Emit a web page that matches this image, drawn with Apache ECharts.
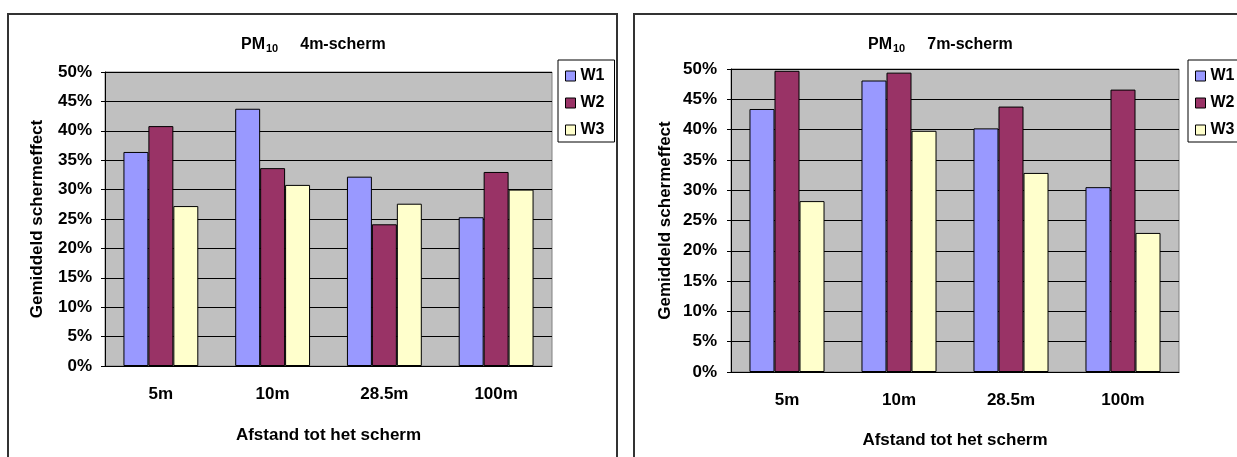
<!DOCTYPE html>
<html>
<head>
<meta charset="utf-8">
<script src="https://cdn.jsdelivr.net/npm/echarts@6/dist/echarts.min.js"></script>
<style>
  html, body { margin: 0; padding: 0; background: #fff; }
  #chart { width: 1237px; height: 457px; }
</style>
</head>
<body>
<div id="chart"></div>
<script>
// Distance classes along the x axis
const categories = ['5m', '10m', '28.5m', '100m'];
const seriesNames = ['W1', 'W2', 'W3'];

// Mean screen effect (%) behind the 4 m screen
const screen4m_W1 = [36.4, 43.75, 32.2, 25.3];
const screen4m_W2 = [40.8, 33.65, 24.1, 33.0];
const screen4m_W3 = [27.2, 30.8, 27.6, 30.0];

// Mean screen effect (%) behind the 7 m screen
const screen7m_W1 = [43.4, 48.1, 40.2, 30.5];
const screen7m_W2 = [49.7, 49.4, 43.8, 46.6];
const screen7m_W3 = [28.2, 39.8, 32.85, 22.95];

const yTicks = { min: 0, max: 50, interval: 5 };

const FONT = "'Liberation Sans', Arial, sans-serif";
const colors = ['#9999ff', '#993366', '#ffffcc'];

const chart = echarts.init(document.getElementById('chart'), null, { renderer: 'canvas' });

function titleText(screen) {
  return '{a|PM}{b|10}{a|' + screen + '}';
}
const titleRich = {
  a: { fontFamily: FONT, fontWeight: 'bold', fontSize: 16, color: '#000' },
  b: { fontFamily: FONT, fontWeight: 'bold', fontSize: 11, color: '#000',
       verticalAlign: 'bottom', padding: [7, 22, 0, 1] }
};

function xAxis(gridIndex, margin, nameGap) {
  return {
    type: 'category', gridIndex, data: categories,
    axisLine: { lineStyle: { color: '#000', width: 1 } },
    axisTick: { length: 5, lineStyle: { color: '#000' } },
    axisLabel: { margin, color: '#000', fontFamily: FONT, fontWeight: 'bold', fontSize: 17 },
    name: 'Afstand tot het scherm', nameLocation: 'middle', nameGap,
    nameTextStyle: { color: '#000', fontFamily: FONT, fontWeight: 'bold', fontSize: 17 }
  };
}
function yAxis(gridIndex, margin, nameGap) {
  return {
    type: 'value', gridIndex, min: yTicks.min, max: yTicks.max, interval: yTicks.interval,
    axisLine: { show: true, lineStyle: { color: '#000', width: 1 } },
    axisTick: { show: true, length: 4, lineStyle: { color: '#000' } },
    axisLabel: { margin, color: '#000', fontFamily: FONT, fontWeight: 'bold', fontSize: 17,
                 formatter: '{value}%' },
    splitLine: { show: true, lineStyle: { color: '#000', width: 1 } },
    name: 'Gemiddeld schermeffect', nameLocation: 'middle', nameGap,
    nameTextStyle: { color: '#000', fontFamily: FONT, fontWeight: 'bold', fontSize: 17 }
  };
}
function legend(left) {
  return {
    orient: 'vertical', left, top: 60, data: seriesNames,
    padding: [7, 10, 3, 7], itemGap: 9, itemWidth: 10, itemHeight: 10,
    icon: 'rect',
    itemStyle: { borderColor: '#000', borderWidth: 1 },
    backgroundColor: '#fff', borderColor: '#000', borderWidth: 1,
    textStyle: { color: '#000', fontFamily: FONT, fontWeight: 'bold', fontSize: 16, lineHeight: 18 }
  };
}
function bar(name, data, idx, colorIdx) {
  return {
    name, type: 'bar', data, xAxisIndex: idx, yAxisIndex: idx,
    barGap: '0%', barCategoryGap: '33%',
    itemStyle: { color: colors[colorIdx], borderColor: '#000', borderWidth: 1 },
    emphasis: { disabled: true }
  };
}

chart.setOption({
  animation: false,
  backgroundColor: '#fff',
  title: [
    { text: titleText('4m-scherm'), left: 236, top: 31, textStyle: { rich: titleRich } },
    { text: titleText('7m-scherm'), left: 863, top: 31, textStyle: { rich: titleRich } }
  ],
  legend: [legend(558), legend(1188)],
  grid: [
    { left: 105, top: 72, width: 447, height: 294, show: true,
      backgroundColor: '#c0c0c0', borderColor: '#808080', borderWidth: 1 },
    { left: 731, top: 69, width: 448, height: 303, show: true,
      backgroundColor: '#c0c0c0', borderColor: '#808080', borderWidth: 1 }
  ],
  xAxis: [xAxis(0, 20, 61), xAxis(1, 20, 60)],
  yAxis: [yAxis(0, 13, 59), yAxis(1, 14, 57)],
  series: [
    bar('W1', screen4m_W1, 0, 0),
    bar('W2', screen4m_W2, 0, 1),
    bar('W3', screen4m_W3, 0, 2),
    bar('W1', screen7m_W1, 1, 0),
    bar('W2', screen7m_W2, 1, 1),
    bar('W3', screen7m_W3, 1, 2)
  ],
  graphic: [
    // panel frames around each chart
    { type: 'rect', shape: { x: 8, y: 14, width: 609, height: 460 },
      style: { fill: 'none', stroke: '#333', lineWidth: 2 }, z: 100 },
    { type: 'rect', shape: { x: 634, y: 14, width: 620, height: 460 },
      style: { fill: 'none', stroke: '#333', lineWidth: 2 }, z: 100 }
  ]
});
</script>
</body>
</html>
